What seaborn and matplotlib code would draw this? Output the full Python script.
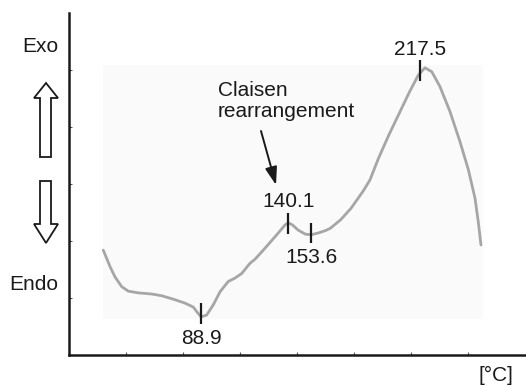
import pandas as pd
import matplotlib
matplotlib.use("Agg")
import matplotlib.pyplot as plt
from matplotlib.patches import Polygon, Rectangle
import seaborn as sns

# DSC trace: temperature (°C) vs. heat flow (arbitrary units, exo up)
temperature = [31.5, 35.5, 38.4, 42.3, 46.2, 52.1, 60.0, 65.8, 73.6, 79.5, 84.4, 86.4, 88.9,
               92.2, 96.1, 100.1, 104.9, 108.9, 112.8, 117.7, 120.6, 125.5, 133.4, 138.2,
               140.1, 142.7, 146.0, 150.2, 153.6, 157.7, 161.7, 164.7, 170.8, 176.9, 184.0,
               188.1, 193.1, 199.2, 205.3, 211.4, 216.5, 220.4, 224.4, 229.2, 235.1, 241.0,
               245.9, 249.8, 251.7, 253.3]
heat_flow = [1.84, 1.55, 1.37, 1.20, 1.12, 1.09, 1.07, 1.04, 0.97, 0.91, 0.84, 0.76, 0.67,
             0.70, 0.88, 1.11, 1.29, 1.35, 1.43, 1.61, 1.68, 1.84, 2.11, 2.28,
             2.32, 2.28, 2.19, 2.12, 2.11, 2.14, 2.18, 2.22, 2.37, 2.57, 2.87,
             3.07, 3.45, 3.86, 4.24, 4.62, 4.91, 5.04, 4.97, 4.71, 4.27, 3.74,
             3.25, 2.75, 2.34, 1.93]

# labelled events (°C)
event_temps = [88.9, 140.1, 153.6, 217.5]
event_side = ["below", "above", "below", "above"]

annotation_text = "Claisen\nrearrangement"
exo_label, endo_label, unit_label = "Exo", "Endo", "[°C]"

df = pd.DataFrame({"T": temperature, "q": heat_flow})

sns.set_theme(style="white")
plt.rcParams["font.family"] = ["Liberation Sans", "DejaVu Sans"]

W, H = 526, 387
fig = plt.figure(figsize=(W / 100, H / 100), dpi=100)
ax = fig.add_axes([69 / W, 32 / H, (W - 69) / W, 342 / H])

# axis scale: pixels per degree and per heat-flow unit
px_per_deg = 1.703
px_per_unit = 57
t0 = 88.9 - (201 - 69) / px_per_deg
t1 = t0 + (W - 69) / px_per_deg
ax.set_xlim(t0, t1)
ax.set_ylim(0, 342 / px_per_unit)


def px(x, y):
    """Figure pixel position -> data coordinates."""
    return t0 + (x - 69) / px_per_deg, (355 - y) / px_per_unit


# faint scan background behind the trace
bx, by = px(103, 319)
ax.add_patch(Rectangle((bx, by), (483 - 103) / px_per_deg, (319 - 65) / px_per_unit,
                       facecolor="#fafafa", edgecolor="none", zorder=0))

sns.lineplot(data=df, x="T", y="q", ax=ax, color="#a6a6a6", linewidth=2.0,
             solid_joinstyle="round", solid_capstyle="round", zorder=2)

ink = "#1a1a1a"
fs = 15
# marker extent (down, up) and label gap per event
tick_extent = {88.9: (0.13, 0.24), 140.1: (0.20, 0.17), 153.6: (0.14, 0.21), 217.5: (0.11, 0.26)}
label_gap = {88.9: 0.08, 140.1: 0.03, 153.6: 0.10, 217.5: 0.03}
for t, side in zip(event_temps, event_side):
    idx = min(range(len(temperature)), key=lambda i: abs(temperature[i] - t))
    yc = heat_flow[idx]
    dn, up = tick_extent[t]
    ax.plot([t, t], [yc - dn, yc + up], color=ink, lw=1.6, zorder=3,
            solid_capstyle="butt")
    if side == "below":
        ax.text(t, yc - dn - label_gap[t], f"{t}", ha="center", va="top",
                fontsize=fs, color=ink)
    else:
        ax.text(t, yc + up + label_gap[t], f"{t}", ha="center", va="bottom",
                fontsize=fs, color=ink)

# Claisen annotation with arrow
ax.annotate("", xy=px(276, 185), xytext=px(261, 131),
            arrowprops=dict(arrowstyle="-|>,head_length=0.9,head_width=0.3",
                            color=ink, lw=1.4, shrinkA=0, shrinkB=0))
ax.text(*px(218, 101), annotation_text, ha="left", va="center", fontsize=fs,
        color=ink, linespacing=1.12)

# axes styling
for s in ["top", "right"]:
    ax.spines[s].set_visible(False)
for s in ["left", "bottom"]:
    ax.spines[s].set_color(ink)
    ax.spines[s].set_linewidth(1.8)
ax.set_xticks([t0 + 57 * k / px_per_deg for k in range(1, 8)])
ax.set_yticks([1, 2, 3, 4, 5])
ax.tick_params(direction="in", length=2.5, width=0.8, color="#555555",
               labelbottom=False, labelleft=False, bottom=True, left=True)
ax.set_xlabel("")
ax.set_ylabel("")
ax.patch.set_alpha(0)


def fx(x):
    return x / W


def fy(y):
    return 1 - y / H


# Exo / Endo labels, unit label and hollow direction arrows
fig.text(fx(58), fy(47), exo_label, ha="right", va="center", fontsize=fs, color=ink)
fig.text(fx(58), fy(285), endo_label, ha="right", va="center", fontsize=fs, color=ink)
fig.text(fx(496), fy(375), unit_label, ha="center", va="center", fontsize=fs, color=ink)

up_arrow = [(40, 157), (40, 98), (34, 98), (46, 83), (58, 98), (51, 98), (51, 157)]
down_arrow = [(40, 181), (40, 224), (34, 224), (46, 243), (58, 224), (51, 224), (51, 181)]
for shape in (up_arrow, down_arrow):
    fig.patches.append(Polygon([(fx(x), fy(y)) for x, y in shape], closed=True,
                               facecolor="white", edgecolor=ink, lw=1.3,
                               transform=fig.transFigure, joinstyle="miter"))

fig.savefig("out.png", dpi=100, facecolor="white")
